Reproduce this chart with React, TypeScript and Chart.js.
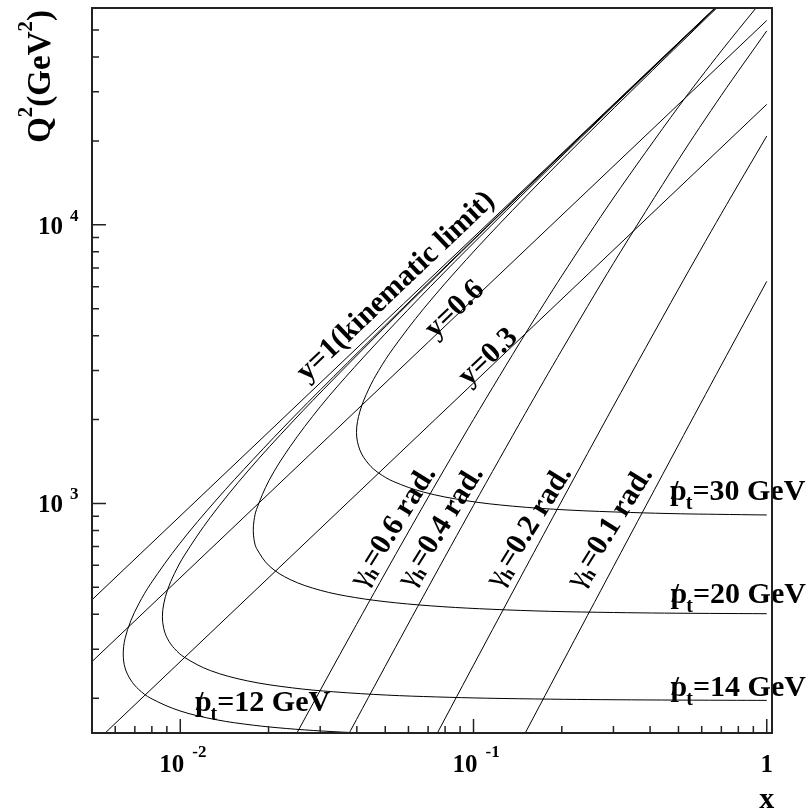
import React, { useEffect, useRef } from 'react';
import { Chart, registerables } from 'chart.js';

Chart.register(...registerables);

// ---------------- axis ticks ----------------
const xMajorTicks = [0.01, 0.1, 1];
const xMajorBase = ['10', '10', '1'];
const xMajorExp = ['-2', '-1', ''];
const xMinorTicks = [0.006, 0.007, 0.008, 0.009, 0.02, 0.03, 0.04, 0.05, 0.06, 0.07, 0.08, 0.09, 0.2, 0.3, 0.4, 0.5, 0.6, 0.7, 0.8, 0.9];
const yMajorTicks = [1000, 10000];
const yMajorBase = ['10', '10'];
const yMajorExp = ['3', '4'];
const yMinorTicks = [200, 300, 400, 500, 600, 700, 800, 900, 2000, 3000, 4000, 5000, 6000, 7000, 8000, 9000, 20000, 30000, 40000, 50000];

const X_MIN = 0.005;
const X_MAX = 1.042;
const Q2_MIN = 150;
const Q2_MAX = 60000;

// ---------------- constant-y lines ----------------
const y1X = [0.004, 0.7];
const y1Q2 = [360.8, 63140];
const y06X = [0.004, 1];
const y06Q2 = [216.5, 54120];
const y03X = [0.005, 1];
const y03Q2 = [135.3, 27060];

// ---------------- constant hadronic angle lines ----------------
const g01X = [0.14, 0.2, 0.3, 0.5, 0.7, 1.0];
const g01Q2 = [130.6, 265.4, 592.9, 1623, 3136, 6267];
const g02X = [0.07, 0.1, 0.15, 0.2, 0.3, 0.5, 0.7, 1.0];
const g02Q2 = [129.9, 262.9, 582.9, 1021.7, 2235, 5885, 10963, 20824];
const g04X = [0.035, 0.05, 0.07, 0.1, 0.15, 0.2, 0.3, 0.5, 0.7, 1.0];
const g04Q2 = [129.8, 260.4, 498.8, 984.6, 2101, 3551, 7273, 17133, 29152, 49665];
const g06X = [0.023, 0.035, 0.05, 0.07, 0.1, 0.15, 0.2, 0.3, 0.5, 0.7, 0.92];
const g06Q2 = [127.8, 286.7, 563.1, 1051, 2002, 4055, 6555, 12480, 26515, 42075, 60093];

// ---------------- constant pt curves ----------------
const pt30X = [1.0, 0.675, 0.509, 0.343, 0.210, 0.1356, 0.0945, 0.0676, 0.0532, 0.0475, 0.0439, 0.0410, 0.0399, 0.0410, 0.0439, 0.0475, 0.0532, 0.0676, 0.0945, 0.1356, 0.210, 0.343, 0.675];
const pt30Q2 = [909, 914, 918, 928, 947, 978, 1023, 1098, 1200, 1286, 1385, 1552, 1800, 2143, 2571, 3000, 3600, 5000, 7500, 11250, 18000, 30000, 60000];
const pt20X = [1.0, 0.638, 0.448, 0.300, 0.182, 0.1155, 0.0786, 0.0542, 0.0392, 0.0300, 0.0237, 0.0201, 0.0182, 0.01785, 0.01774, 0.01785, 0.0182, 0.0201, 0.0237, 0.0300, 0.0392, 0.0542, 0.0786, 0.1155, 0.182, 0.300, 0.448, 0.669];
const pt20Q2 = [402, 403, 404, 406, 410, 417, 426, 440, 460, 488, 533, 597, 690, 741, 800, 870, 952, 1212, 1600, 2222, 3077, 4444, 6667, 10000, 16000, 26667, 40000, 59970];
const pt14X = [1.0, 0.7265, 0.4368, 0.2738, 0.1833, 0.1109, 0.0747, 0.0506, 0.0334, 0.0241, 0.0170, 0.01266, 0.01035, 0.00955, 0.00905, 0.00878, 0.00869, 0.00878, 0.00905, 0.00955, 0.01035, 0.01266, 0.0170, 0.0241, 0.0334, 0.0506, 0.0747, 0.1109, 0.1833, 0.2738, 0.4368, 0.667];
const pt14Q2 = [196.4, 196.6, 197.0, 197.6, 198.4, 200, 202.1, 205.2, 210.8, 217.8, 230.6, 251.3, 280, 301.5, 326.7, 356.4, 392, 435.6, 490, 560, 653.3, 890.9, 1306.7, 1960, 2800, 4355.6, 6533, 9800, 16333, 24500, 39200, 59940];
const pt12X = [0.0549, 0.0416, 0.0307, 0.0230, 0.01774, 0.01326, 0.00998, 0.00792, 0.00722, 0.00678, 0.00648, 0.00639, 0.00648, 0.00678, 0.00722, 0.00792, 0.00998, 0.01326, 0.01774, 0.0245, 0.0372, 0.0549, 0.0815, 0.1347, 0.2297, 0.4007, 0.667];
const pt12Q2 = [148.5, 150, 152.4, 155.7, 160, 167.4, 180, 200, 214.9, 232.3, 257.1, 288, 327.3, 378.9, 436.4, 514.3, 720, 1028.6, 1440, 2057, 3200, 4800, 7200, 12000, 20571, 36000, 60000];

// ---------------- annotation texts ----------------
const yLineLabels = ['y=1(kinematic limit)', 'y=0.6', 'y=0.3'];
const gammaLabels = ['0.6', '0.4', '0.2', '0.1'];
const ptLabels = ['30', '20', '14', '12'];

// annotation anchors (data coordinates) and styles
const annot = {
  yLine: { x: [0.0567, 0.0901, 0.1172], q2: [5730, 4740, 3197], angle: 43.6 },
  gamma: { x: [0.0562, 0.0816, 0.1632, 0.3082], q2: [797, 797, 797, 792], angle: 58 },
  pt: { x: [0.468, 0.47, 0.47, 0.01122], q2: [1033, 440.7, 203.9, 180.2] },
};

const SERIF = '"Liberation Serif", "Times New Roman", Times, serif';
const F = (size: number, bold = true) => `${bold ? 'bold ' : ''}${size}px ${SERIF}`;

type Part = { t: string; size: number; bold?: boolean; dy?: number; dx?: number };

function drawParts(ctx: CanvasRenderingContext2D, parts: Part[], x: number, y: number, angleDeg: number, align: 'left' | 'center' | 'right') {
  ctx.save();
  ctx.translate(x, y);
  ctx.rotate((-angleDeg * Math.PI) / 180);
  ctx.textAlign = 'left';
  ctx.textBaseline = 'alphabetic';
  const widths = parts.map((p) => {
    ctx.font = F(p.size, p.bold !== false);
    return ctx.measureText(p.t).width + (p.dx || 0);
  });
  const total = widths.reduce((a, b) => a + b, 0);
  let cx = align === 'center' ? -total / 2 : align === 'right' ? -total : 0;
  parts.forEach((p, i) => {
    ctx.font = F(p.size, p.bold !== false);
    ctx.fillText(p.t, cx + (p.dx || 0), p.dy || 0);
    cx += widths[i];
  });
  ctx.restore();
}

function drawPt(ctx: CanvasRenderingContext2D, x: number, y: number, value: string) {
  ctx.save();
  ctx.textAlign = 'left';
  ctx.textBaseline = 'alphabetic';
  ctx.font = F(30);
  ctx.fillText('p', x, y);
  const pw = ctx.measureText('p').width;
  ctx.font = F(27);
  ctx.fillText('/', x + 1, y - 1);
  ctx.font = F(20);
  ctx.fillText('t', x + pw - 1, y + 9);
  const tw = ctx.measureText('t').width;
  ctx.font = F(30);
  ctx.fillText('=' + value + ' GeV', x + pw + tw - 1, y);
  ctx.restore();
}

const overlayPlugin = {
  id: 'hepOverlay',
  afterDraw(chart: any) {
    const ctx: CanvasRenderingContext2D = chart.ctx;
    const { left, right, top, bottom } = chart.chartArea;
    const xs = chart.scales.x;
    const ys = chart.scales.y;
    ctx.save();
    ctx.fillStyle = '#000';

    // labels along y lines
    yLineLabels.forEach((t, i) => {
      drawParts(ctx, [{ t, size: 30 }], xs.getPixelForValue(annot.yLine.x[i]), ys.getPixelForValue(annot.yLine.q2[i]), annot.yLine.angle, 'center');
    });
    // labels along gamma lines
    gammaLabels.forEach((v, i) => {
      drawParts(
        ctx,
        [
          { t: 'γ', size: 30, bold: false },
          { t: 'h', size: 18, dy: 5, dx: -1 },
          { t: '=' + v + ' rad.', size: 30 },
        ],
        xs.getPixelForValue(annot.gamma.x[i]),
        ys.getPixelForValue(annot.gamma.q2[i]),
        annot.gamma.angle,
        'center'
      );
    });
    // pt labels
    ptLabels.forEach((v, i) => {
      drawPt(ctx, xs.getPixelForValue(annot.pt.x[i]), ys.getPixelForValue(annot.pt.q2[i]), v);
    });

    // frame
    ctx.strokeStyle = '#222';
    ctx.lineWidth = 2;
    ctx.strokeRect(left, top, right - left, bottom - top);

    // ticks
    ctx.lineWidth = 1.5;
    ctx.beginPath();
    xMajorTicks.forEach((v) => {
      const px = xs.getPixelForValue(v);
      ctx.moveTo(px, bottom);
      ctx.lineTo(px, bottom - 14);
    });
    xMinorTicks.forEach((v) => {
      const px = xs.getPixelForValue(v);
      ctx.moveTo(px, bottom);
      ctx.lineTo(px, bottom - 7);
    });
    yMajorTicks.forEach((v) => {
      const py = ys.getPixelForValue(v);
      ctx.moveTo(left, py);
      ctx.lineTo(left + 14, py);
    });
    yMinorTicks.forEach((v) => {
      const py = ys.getPixelForValue(v);
      ctx.moveTo(left, py);
      ctx.lineTo(left + 7, py);
    });
    ctx.stroke();

    // tick labels
    ctx.textBaseline = 'alphabetic';
    xMajorTicks.forEach((v, i) => {
      const px = xs.getPixelForValue(v);
      if (xMajorExp[i]) {
        ctx.font = F(25);
        ctx.textAlign = 'right';
        ctx.fillText(xMajorBase[i], px + 4, bottom + 39);
        ctx.font = F(17);
        ctx.textAlign = 'left';
        ctx.fillText(xMajorExp[i], px + 12, bottom + 24);
      } else {
        ctx.font = F(25);
        ctx.textAlign = 'center';
        ctx.fillText(xMajorBase[i], px, bottom + 39);
      }
    });
    yMajorTicks.forEach((v, i) => {
      const py = ys.getPixelForValue(v);
      ctx.font = F(25);
      ctx.textAlign = 'right';
      ctx.fillText(yMajorBase[i], left - 29, py + 9);
      ctx.font = F(17);
      ctx.textAlign = 'left';
      ctx.fillText(yMajorExp[i], left - 22, py - 4);
    });

    // axis titles
    ctx.textAlign = 'center';
    ctx.font = F(30);
    ctx.fillText('x', xs.getPixelForValue(1), bottom + 75);
    drawParts(
      ctx,
      [
        { t: 'Q', size: 33 },
        { t: '2', size: 21, dy: -18 },
        { t: '(GeV', size: 33 },
        { t: '2', size: 21, dy: -18 },
        { t: ')', size: 33 },
      ],
      50,
      top + 2,
      90,
      'right'
    );
    ctx.restore();
  },
};

function line(xsArr: number[], qArr: number[], tension: number) {
  return {
    data: xsArr.map((x, i) => ({ x, y: qArr[i] })),
    showLine: true,
    borderColor: '#000',
    borderWidth: 1,
    pointRadius: 0,
    fill: false,
    tension,
  };
}

export default function App() {
  const ref = useRef<HTMLCanvasElement>(null);
  useEffect(() => {
    const canvas = ref.current!;
    const chart = new Chart(canvas, {
      type: 'scatter',
      data: {
        datasets: [
          line(y1X, y1Q2, 0),
          line(y06X, y06Q2, 0),
          line(y03X, y03Q2, 0),
          line(g01X, g01Q2, 0.3),
          line(g02X, g02Q2, 0.3),
          line(g04X, g04Q2, 0.3),
          line(g06X, g06Q2, 0.3),
          line(pt30X, pt30Q2, 0.35),
          line(pt20X, pt20Q2, 0.35),
          line(pt14X, pt14Q2, 0.35),
          line(pt12X, pt12Q2, 0.35),
        ] as any,
      },
      options: {
        responsive: false,
        animation: false,
        devicePixelRatio: 1,
        events: [],
        layout: { padding: { left: 92, top: 8, right: 36, bottom: 79 } },
        plugins: { legend: { display: false }, tooltip: { enabled: false }, title: { display: false } },
        elements: { point: { radius: 0 }, line: { capBezierPoints: false } as any },
        scales: {
          x: { type: 'logarithmic', min: X_MIN, max: X_MAX, display: false },
          y: { type: 'logarithmic', min: Q2_MIN, max: Q2_MAX, display: false },
        },
      },
      plugins: [overlayPlugin],
    });
    return () => chart.destroy();
  }, []);
  return (
    <div style={{ position: 'absolute', left: 0, top: 0, width: 808, height: 812, background: '#fff' }}>
      <canvas ref={ref} width={808} height={812} style={{ display: 'block', width: 808, height: 812 }} />
    </div>
  );
}
